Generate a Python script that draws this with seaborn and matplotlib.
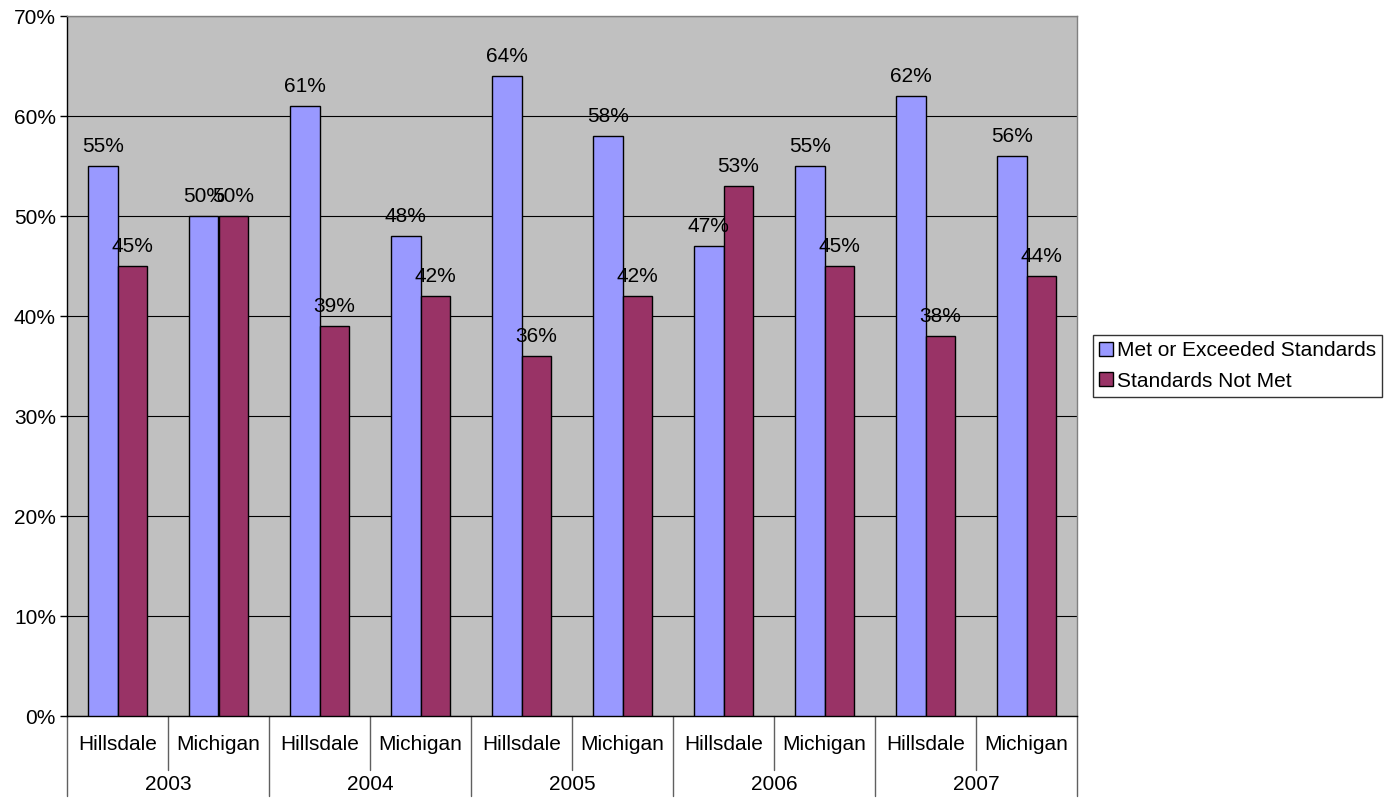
import matplotlib
matplotlib.use("Agg")
import matplotlib.pyplot as plt
import matplotlib.transforms as mtransforms
from matplotlib.patches import Patch
import pandas as pd
import seaborn as sns

years = ["2003", "2004", "2005", "2006", "2007"]
regions = ["Hillsdale", "Michigan"]
met = [55, 50, 61, 48, 64, 58, 47, 55, 62, 56]
not_met = [45, 50, 39, 42, 36, 42, 53, 45, 38, 44]
series = ["Met or Exceeded Standards", "Standards Not Met"]
colors = ["#9999FF", "#993366"]

cats = [f"{r} {y}" for y in years for r in regions]
df = pd.DataFrame({
    "cat": cats * 2,
    "series": [series[0]] * len(cats) + [series[1]] * len(cats),
    "value": met + not_met,
})

sns.set_style("white")
plt.rcParams["font.family"] = ["Liberation Sans", "DejaVu Sans"]
plt.rcParams["text.color"] = "black"
plt.rcParams["ytick.color"] = "black"
plt.rcParams["ytick.labelcolor"] = "black"

FS = 15

fig = plt.figure(figsize=(13.93, 8.0), dpi=100)
ax = fig.add_axes([67 / 1393, 84 / 800, 1010 / 1393, 700 / 800])
ax.set_facecolor("#C0C0C0")

sns.barplot(data=df, x="cat", y="value", hue="series", order=cats,
            hue_order=series, palette=colors, saturation=1, width=0.58,
            edgecolor="black", linewidth=1, legend=False, ax=ax, zorder=3)

ax.set_xlim(-0.5, len(cats) - 0.5)
ax.set_ylim(0, 70)
ax.set_yticks(range(0, 71, 10))
ax.set_yticklabels([f"{v}%" for v in range(0, 71, 10)], fontsize=FS,
                   color="black")
ax.tick_params(axis="y", length=5, width=1, color="black", left=True, pad=3)
ax.set_xticks([])
ax.set_xlabel("")
ax.set_ylabel("")
ax.yaxis.grid(True, color="black", linewidth=0.8)
ax.set_axisbelow(True)
for side in ["left", "bottom"]:
    ax.spines[side].set_color("black")
    ax.spines[side].set_linewidth(1)
for side in ["top", "right"]:
    ax.spines[side].set_color("#808080")
    ax.spines[side].set_linewidth(1)

for cont in ax.containers:
    ax.bar_label(cont, fmt="%.0f%%", padding=7, fontsize=FS, color="black",
                 zorder=4)

# Two-level category axis below the plot
trans = mtransforms.blended_transform_factory(ax.transData, ax.transAxes)
for i, c in enumerate(cats):
    ax.text(i, -0.0414, c.split(" ")[0], transform=trans, ha="center",
            va="center", fontsize=FS, color="black")
for j, y in enumerate(years):
    ax.text(2 * j + 0.5, -0.0985, y, transform=trans, ha="center",
            va="center", fontsize=FS, color="black")
for k in range(len(cats) + 1):
    x = k - 0.5
    bottom = -0.1143 if k % 2 == 0 else -0.077
    ax.plot([x, x], [0, bottom], transform=trans, color="#606060",
            linewidth=1, clip_on=False)

handles = [Patch(facecolor=col, edgecolor="black", linewidth=1) for col in colors]
leg = fig.legend(handles, series, loc="upper left",
                 bbox_to_anchor=(1093 / 1393, 1 - 335 / 800), fontsize=FS,
                 frameon=True, fancybox=False, handlelength=0.65,
                 handleheight=0.65, handletextpad=0.2, borderpad=0.3,
                 labelspacing=0.55, borderaxespad=0)
leg.get_frame().set_edgecolor("black")
leg.get_frame().set_linewidth(1)

fig.savefig("out.png", dpi=100, facecolor="white")
